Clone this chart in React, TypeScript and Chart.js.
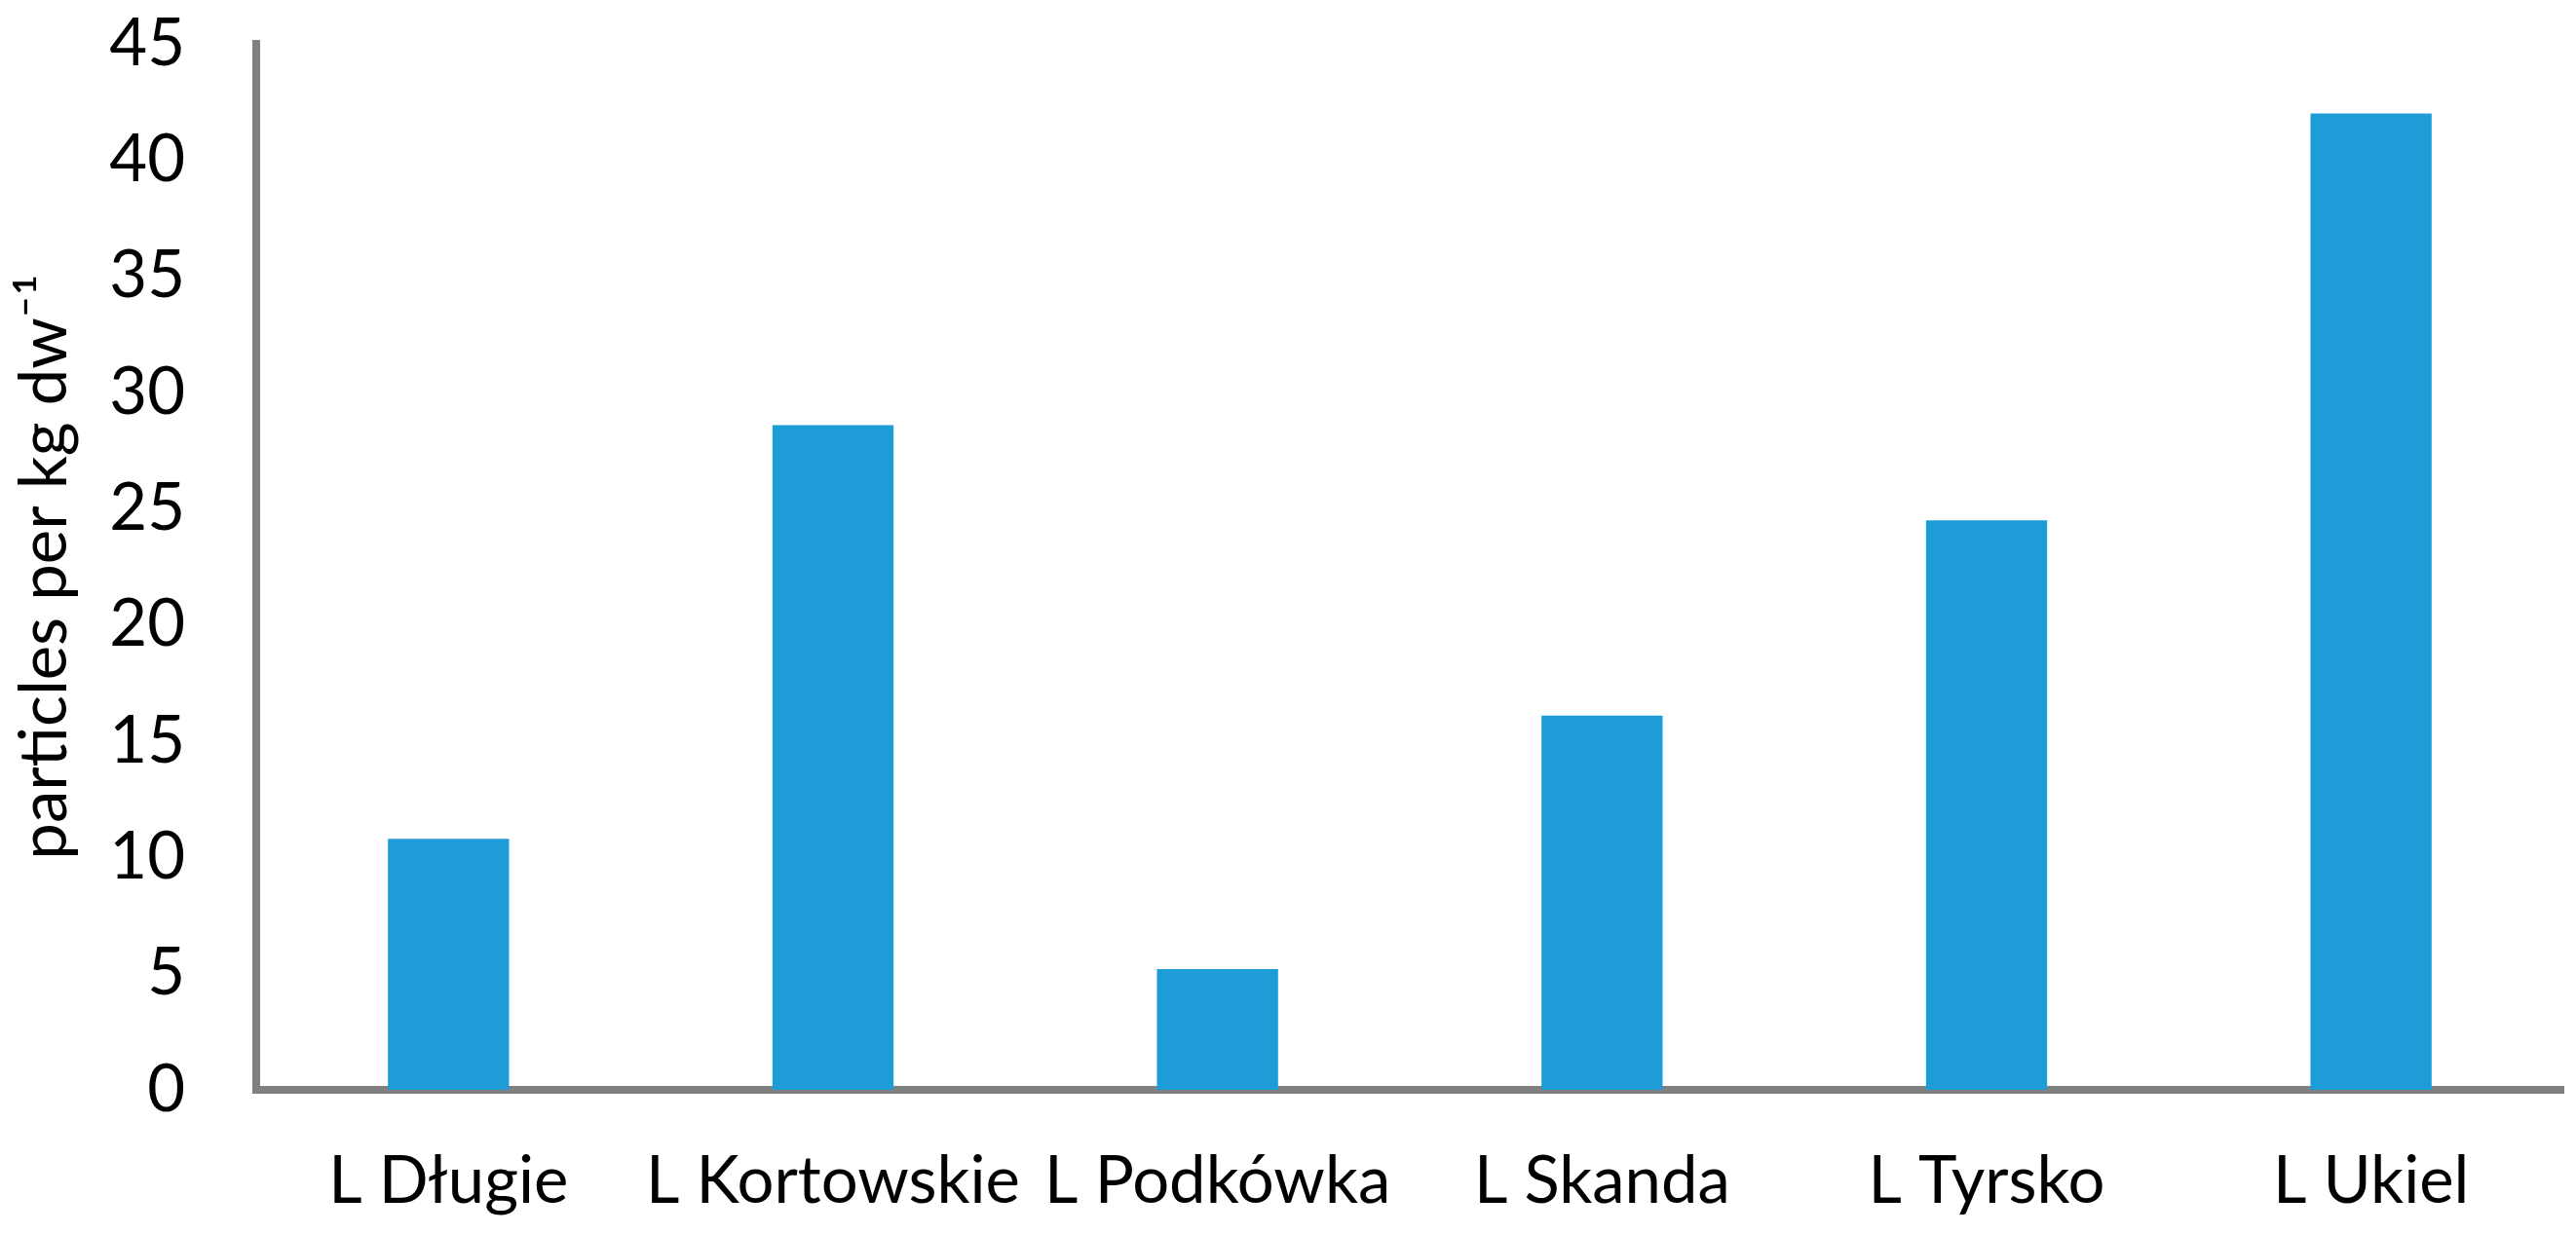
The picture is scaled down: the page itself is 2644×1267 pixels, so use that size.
import React, { useEffect, useRef } from "react";
import { Chart, registerables } from "chart.js";

Chart.register(...registerables);

const categories = ["L Długie", "L Kortowskie", "L Podkówka", "L Skanda", "L Tyrsko", "L Ukiel"];
const particles = [10.8, 28.6, 5.2, 16.1, 24.5, 42.0];
const yMin = 0;
const yMax = 45;
const yStep = 5;
const yTitle = "particles per kg dw\u207B\u00B9";

const FONT = "Lato, 'Noto Sans', sans-serif";
const W = 2644;
const H = 1267;

export default function App() {
  const ref = useRef<HTMLCanvasElement | null>(null);

  useEffect(() => {
    document.body.style.margin = "0";
    const canvas = ref.current;
    if (!canvas) return;
    const chart = new Chart(canvas, {
      type: "bar",
      data: {
        labels: categories,
        datasets: [
          {
            data: particles,
            backgroundColor: "#1E9CD8",
            borderWidth: 0,
            categoryPercentage: 1,
            barPercentage: 0.315,
          },
        ],
      },
      options: {
        responsive: false,
        animation: false,
        devicePixelRatio: 1,
        layout: { padding: { left: 0, top: 45, right: 13, bottom: 0 } },
        plugins: {
          legend: { display: false },
          tooltip: { enabled: false },
          title: { display: false },
        },
        scales: {
          x: {
            type: "category",
            grid: { display: false, drawTicks: false },
            border: { display: true, color: "#808080", width: 8 },
            ticks: {
              color: "#000000",
              font: { family: FONT, size: 67 },
              padding: 54,
              autoSkip: false,
              maxRotation: 0,
              minRotation: 0,
            },
            afterFit: (scale: any) => {
              scale.height = H - 1119;
              scale.paddingLeft = 0;
              scale.paddingRight = 0;
              scale.paddingTop = 0;
              scale.paddingBottom = 0;
            },
          },
          y: {
            type: "linear",
            min: yMin,
            max: yMax,
            grid: { display: false, drawTicks: false },
            border: { display: true, color: "#808080", width: 8 },
            ticks: {
              stepSize: yStep,
              color: "#000000",
              font: { family: FONT, size: 67 },
              padding: 73,
            },
            title: {
              display: true,
              text: yTitle,
              color: "#000000",
              font: { family: FONT, size: 67 },
              padding: { top: 6, bottom: 0 },
            },
            afterFit: (scale: any) => {
              scale.width = 263;
              scale.paddingLeft = 0;
              scale.paddingRight = 0;
              scale.paddingTop = 0;
              scale.paddingBottom = 0;
            },
          },
        },
      },
    });
    return () => chart.destroy();
  }, []);

  return (
    <div style={{ position: "fixed", left: 0, top: 0, width: W, height: H, background: "#ffffff" }}>
      <canvas ref={ref} width={W} height={H} style={{ width: W, height: H, display: "block" }} />
    </div>
  );
}
